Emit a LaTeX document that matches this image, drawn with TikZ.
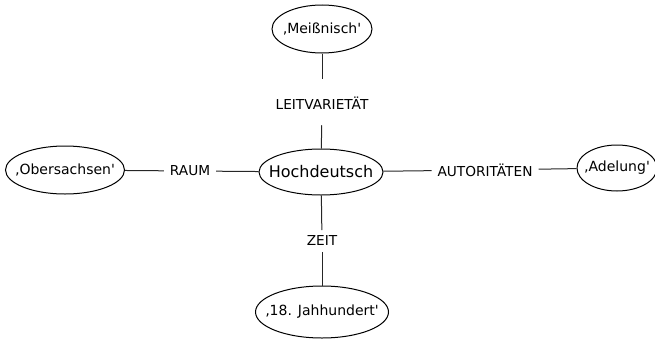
\documentclass[tikz,border=0pt]{standalone}
\usepackage{fontspec}
\setmainfont{DejaVu Sans}
\usepackage{tikz}
\usetikzlibrary{positioning, shapes.geometric}

\begin{document}
\begin{tikzpicture}[x=1pt, y=-1pt,
    term/.style={draw, ellipse, line width=1pt, inner xsep=-20pt, inner ysep=-5pt, font=\fontsize{14}{16}\selectfont},
    relation/.style={inner sep=0pt, outer sep=6pt, font=\fontsize{13.7}{16}\selectfont},
    link/.style={draw, black!85, line width=1pt}
]
    \useasboundingbox (0,0) rectangle (655,340);

    % Center term
    \node[term, minimum width=124, minimum height=46, font=\fontsize{16}{18}\selectfont] (hd) at (321,172) {Hochdeutsch};

    % Outer terms
    \node[term, minimum width=100, minimum height=48] (mei) at (322,29) {‚Meißnisch\textquotesingle};
    \node[term, minimum width=119, minimum height=48] (obs) at (65,170) {‚Obersachsen\textquotesingle};
    \node[term, minimum width=80, minimum height=46] (ade) at (617,168) {‚Adelung\textquotesingle};
    \node[term, minimum width=133, minimum height=52] (jah) at (322,312) {‚18. Jahhundert\textquotesingle};

    % Relations
    \node[relation] (lv) at (322,103) {LEITVARIETÄT};
    \node[relation] (raum) at (190,171) {RAUM};
    \node[relation] (aut) at (485,170) {AUTORITÄTEN};
    \node[relation] (zeit) at (322,241) {ZEIT};

    % Connectors
    \draw[link, shorten >=12pt] (mei) -- (lv);
    \draw[link, shorten <=10pt] (lv) -- (hd);
    \draw[link] (obs) -- (raum);
    \draw[link] (raum) -- (hd);
    \draw[link] (hd) -- (aut);
    \draw[link] (aut) -- (ade);
    \draw[link] (hd) -- (zeit);
    \draw[link] (zeit) -- (jah);
\end{tikzpicture}
\end{document}
